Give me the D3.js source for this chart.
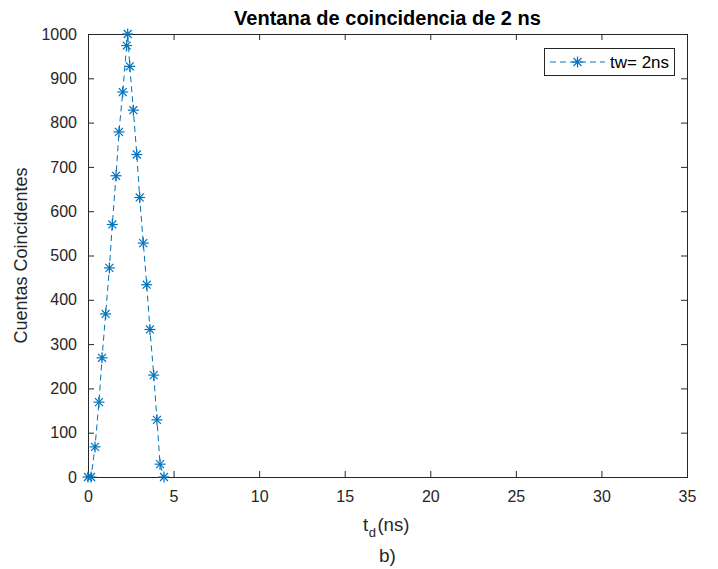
<!DOCTYPE html>
<html>
<head>
<meta charset="utf-8">
<script src="https://cdn.jsdelivr.net/npm/d3@7/dist/d3.min.js"></script>
<style>
  html, body { margin: 0; padding: 0; background: #fff; }
  svg { display: block; font-family: "Liberation Sans", Arial, Helvetica, sans-serif; }
</style>
</head>
<body>
<svg id="chart" width="718" height="569"></svg>
<script>
// Delay time (ns) and coincidence counts for a 2 ns window
const delays = [0, 0.18, 0.41, 0.64, 0.82, 1.03, 1.25, 1.42, 1.64, 1.81, 2.03, 2.26, 2.32,
                2.44, 2.65, 2.85, 3.02, 3.23, 3.43, 3.62, 3.84, 4.03, 4.21, 4.44];
const counts = [0, 0, 68, 169, 269, 368, 472, 570, 680, 779, 869, 974, 1000,
                927, 828, 728, 631, 528, 434, 333, 230, 129, 29, 0];
const xTicks = [0, 5, 10, 15, 20, 25, 30, 35];
const yTicks = [0, 100, 200, 300, 400, 500, 600, 700, 800, 900, 1000];
const seriesName = "tw= 2ns";

const color = "#0072BD";
const axisColor = "#262626";
const svg = d3.select("#chart");
const m = { left: 88, right: 687, top: 34, bottom: 477 };

const x = d3.scaleLinear().domain([0, 35]).range([m.left, m.right]);
const y = d3.scaleLinear().domain([0, 1000]).range([m.bottom, m.top]);

const tickLen = 6;
const tickFont = 16;

// axes (ticks pointing inward, box on all sides)
const gx = svg.append("g").attr("transform", `translate(0,${m.bottom})`)
  .call(d3.axisBottom(x).tickValues(xTicks).tickSize(-tickLen).tickPadding(14).tickFormat(d3.format("d")));
const gxTop = svg.append("g").attr("transform", `translate(0,${m.top})`)
  .call(d3.axisTop(x).tickValues(xTicks).tickSize(-tickLen).tickFormat(""));
const gy = svg.append("g").attr("transform", `translate(${m.left},0)`)
  .call(d3.axisLeft(y).tickValues(yTicks).tickSize(-tickLen).tickPadding(11).tickFormat(d3.format("d")));
const gyRight = svg.append("g").attr("transform", `translate(${m.right},0)`)
  .call(d3.axisRight(y).tickValues(yTicks).tickSize(-tickLen).tickFormat(""));

[gx, gxTop, gy, gyRight].forEach(g => {
  g.select(".domain").remove();
  g.selectAll(".tick line").attr("stroke", axisColor).attr("stroke-width", 1);
  g.selectAll(".tick text").attr("fill", axisColor).style("font-size", tickFont + "px")
    .style("font-family", "'Liberation Sans', Arial, sans-serif");
});

svg.append("rect")
  .attr("x", m.left + 0.5).attr("y", m.top + 0.5)
  .attr("width", m.right - m.left).attr("height", m.bottom - m.top)
  .attr("fill", "none").attr("stroke", axisColor).attr("stroke-width", 1);

// dashed data line
const data = delays.map((d, i) => ({ x: d, y: counts[i] }));
svg.append("path")
  .datum(data)
  .attr("fill", "none")
  .attr("stroke", color)
  .attr("stroke-width", 1)
  .attr("stroke-dasharray", "6,4")
  .attr("d", d3.line().x(d => x(d.x)).y(d => y(d.y)));

// asterisk marker
function asterisk(g, cx, cy, r) {
  const p = g.append("g").attr("transform", `translate(${cx},${cy})`)
    .attr("stroke", color).attr("stroke-width", 1.2).attr("fill", "none");
  const k = r * 0.72;
  p.append("line").attr("x1", -r).attr("x2", r).attr("y1", 0).attr("y2", 0);
  p.append("line").attr("x1", 0).attr("x2", 0).attr("y1", -r).attr("y2", r);
  p.append("line").attr("x1", -k).attr("x2", k).attr("y1", -k).attr("y2", k);
  p.append("line").attr("x1", -k).attr("x2", k).attr("y1", k).attr("y2", -k);
}
const markers = svg.append("g");
data.forEach(d => asterisk(markers, x(d.x), y(d.y), 5.5));

// title and labels
svg.append("text")
  .attr("x", (m.left + m.right) / 2).attr("y", 25)
  .attr("text-anchor", "middle")
  .attr("fill", "#000")
  .style("font-size", "20px").style("font-weight", "bold")
  .text("Ventana de coincidencia de 2 ns");

const xl = svg.append("text")
  .attr("x", 363).attr("y", 531)
  .attr("fill", axisColor)
  .style("font-size", "18.6px");
xl.append("tspan").text("t");
xl.append("tspan").attr("dx", 0.5).attr("dy", 6).style("font-size", "13px").text("d");
xl.append("tspan").attr("dx", 1.5).attr("dy", -6).text("(ns)");

svg.append("text")
  .attr("x", 387.5).attr("y", 562)
  .attr("text-anchor", "middle")
  .attr("fill", axisColor)
  .style("font-size", "19px")
  .text("b)");

svg.append("text")
  .attr("transform", `translate(27,${(m.top + m.bottom) / 2}) rotate(-90)`)
  .attr("text-anchor", "middle")
  .attr("fill", axisColor)
  .style("font-size", "18px")
  .text("Cuentas Coincidentes");

// legend
const lg = svg.append("g");
lg.append("rect")
  .attr("x", 544.5).attr("y", 48.5).attr("width", 130).attr("height", 27)
  .attr("fill", "#fff").attr("stroke", axisColor).attr("stroke-width", 1);
lg.append("line")
  .attr("x1", 550).attr("x2", 605).attr("y1", 62).attr("y2", 62)
  .attr("stroke", color).attr("stroke-width", 1).attr("stroke-dasharray", "6,4");
asterisk(lg, 577.5, 62, 5.5);
lg.append("text")
  .attr("x", 610).attr("y", 68)
  .attr("fill", "#000")
  .style("font-size", "17px")
  .text(seriesName);
</script>
</body>
</html>
